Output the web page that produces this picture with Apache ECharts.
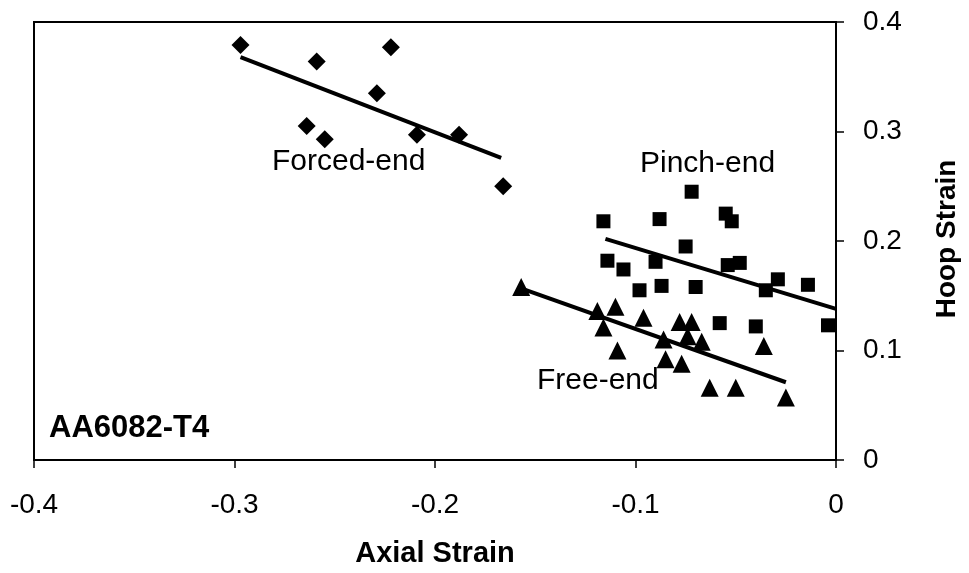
<!DOCTYPE html>
<html>
<head>
<meta charset="utf-8">
<script src="https://cdn.jsdelivr.net/npm/echarts@6/dist/echarts.min.js"></script>
<style>
  html, body { margin: 0; padding: 0; background: #fff; }
  #chart { width: 969px; height: 573px; }
</style>
</head>
<body>
<div id="chart"></div>
<script>
// Axial vs hoop strain measurements, AA6082-T4 tube ends
const xTicks = [-0.4, -0.3, -0.2, -0.1, 0];
const yTicks = [0, 0.1, 0.2, 0.3, 0.4];

// Forced-end points [axial, hoop]
const forcedEnd = [
  [-0.297, 0.379], [-0.259, 0.364], [-0.222, 0.377], [-0.229, 0.335],
  [-0.264, 0.305], [-0.255, 0.293], [-0.209, 0.297], [-0.188, 0.297],
  [-0.166, 0.250]
];
// Pinch-end points
const pinchEnd = [
  [-0.072, 0.245], [-0.116, 0.218], [-0.088, 0.220], [-0.055, 0.225],
  [-0.052, 0.218], [-0.075, 0.195], [-0.114, 0.182], [-0.106, 0.174],
  [-0.090, 0.181], [-0.054, 0.178], [-0.048, 0.180], [-0.098, 0.155],
  [-0.087, 0.159], [-0.070, 0.158], [-0.029, 0.165], [-0.035, 0.155],
  [-0.014, 0.160], [-0.058, 0.125], [-0.040, 0.122], [-0.004, 0.123]
];
// Free-end points
const freeEnd = [
  [-0.157, 0.158], [-0.119, 0.136], [-0.110, 0.140], [-0.116, 0.121],
  [-0.096, 0.130], [-0.078, 0.126], [-0.072, 0.126], [-0.086, 0.110],
  [-0.074, 0.113], [-0.067, 0.108], [-0.109, 0.100], [-0.085, 0.092],
  [-0.077, 0.088], [-0.036, 0.104], [-0.063, 0.066], [-0.050, 0.066],
  [-0.025, 0.057]
];

// Trend line end points
const forcedTrend = [[-0.297, 0.368], [-0.167, 0.276]];
const pinchTrend = [[-0.115, 0.202], [0, 0.138]];
const freeTrend = [[-0.156, 0.156], [-0.025, 0.071]];

const FONT = '"Liberation Sans", Arial, sans-serif';

const chart = echarts.init(document.getElementById('chart'), null, { renderer: 'canvas' });

function scatter(name, data, symbol, size) {
  return {
    name, type: 'scatter', data, symbol, symbolSize: size,
    itemStyle: { color: '#000', opacity: 1 }, z: 3, animation: false
  };
}
function trend(name, data) {
  return {
    name, type: 'line', data, symbol: 'none',
    lineStyle: { color: '#000', width: 4 }, z: 2, animation: false
  };
}
const tickFmt = v => String(Math.round(v * 10) / 10);

chart.setOption({
  backgroundColor: '#fff',
  animation: false,
  grid: {
    left: 34, right: 133, top: 22, bottom: 113,
    show: true, borderColor: '#000', borderWidth: 2, containLabel: false
  },
  xAxis: {
    type: 'value', min: xTicks[0], max: xTicks[xTicks.length - 1], interval: 0.1,
    axisLine: { onZero: false, lineStyle: { color: '#000', width: 2 } },
    axisTick: { show: true, length: 8, lineStyle: { color: '#000', width: 1.5 } },
    splitLine: { show: false },
    axisLabel: { color: '#000', fontSize: 28, fontFamily: FONT, margin: 31, formatter: tickFmt },
    name: 'Axial Strain', nameLocation: 'middle', nameGap: 79,
    nameTextStyle: { color: '#000', fontSize: 29, fontWeight: 'bold', fontFamily: FONT }
  },
  yAxis: {
    type: 'value', position: 'right', min: yTicks[0], max: yTicks[yTicks.length - 1], interval: 0.1,
    axisLine: { show: true, lineStyle: { color: '#000', width: 2 } },
    axisTick: { show: true, length: 8, lineStyle: { color: '#000', width: 1.5 } },
    splitLine: { show: false },
    axisLabel: { color: '#000', fontSize: 28, fontFamily: FONT, margin: 27, formatter: tickFmt }
  },
  graphic: [
    { type: 'text', x: 947, y: 239, rotation: Math.PI / 2,
      style: { text: 'Hoop Strain', fill: '#000', font: 'bold 28px ' + FONT,
               textAlign: 'center', textVerticalAlign: 'middle' } },
    { type: 'text', left: 49, top: 413,
      style: { text: 'AA6082-T4', fill: '#000', font: 'bold 31px ' + FONT } },
    { type: 'text', left: 272, top: 147,
      style: { text: 'Forced-end', fill: '#000', font: '30px ' + FONT } },
    { type: 'text', left: 640, top: 149,
      style: { text: 'Pinch-end', fill: '#000', font: '30px ' + FONT } },
    { type: 'text', left: 537, top: 366,
      style: { text: 'Free-end', fill: '#000', font: '30px ' + FONT } }
  ],
  series: [
    trend('Forced-end fit', forcedTrend),
    trend('Pinch-end fit', pinchTrend),
    trend('Free-end fit', freeTrend),
    scatter('Forced-end', forcedEnd, 'diamond', 18),
    scatter('Pinch-end', pinchEnd, 'rect', 14),
    scatter('Free-end', freeEnd, 'triangle', 18)
  ]
});
</script>
</body>
</html>
